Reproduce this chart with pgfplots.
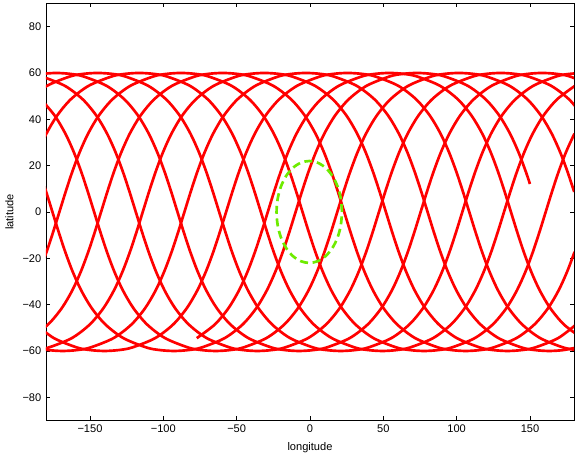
\documentclass[border=0pt]{standalone}
\usepackage{fontspec}
\setmainfont{Liberation Sans}
\usepackage{pgfplots}
\pgfplotsset{compat=1.18}
\definecolor{trackred}{RGB}{255,0,0}
\definecolor{fovgreen}{RGB}{110,235,0}
\begin{document}
\begin{tikzpicture}
\begin{axis}[
  width=396pt, height=312.75pt, scale only axis,
  xmin=-180, xmax=180, ymin=-90, ymax=90,
  xtick={-150,-100,-50,0,50,100,150},
  xticklabels={−150,−100,−50,0,50,100,150},
  ytick={-80,-60,-40,-20,0,20,40,60,80},
  yticklabels={−80,−60,−40,−20,0,20,40,60,80},
  tick align=inside,
  major tick length=3pt,
  tick style={black,line width=0.5pt},
  axis line style={line width=0.6pt},
  ticklabel style={font=\fontsize{8.3}{10}\selectfont},
  label style={font=\fontsize{8.3}{10}\selectfont},
  xlabel={longitude}, ylabel={latitude},
  trk/.style={trackred,line width=2pt,smooth,mark=none},
]
% ground track, one piece between two crossings of the date line
\addplot[trk] coordinates {(-77.20,-54.47) (-64.93,-48.59) (-55.62,-41.56) (-48.38,-33.83) (-42.51,-25.66) (-37.51,-17.23) (-33.03,-8.65) (-28.78,0) (-24.53,8.65) (-20.05,17.23) (-15.05,25.66) (-9.18,33.83) (-1.94,41.56) (7.37,48.59) (19.64,54.47) (35.47,58.53) (44.59,59.62) (54.11,60) (63.65,59.62) (72.76,58.53) (88.59,54.47) (100.86,48.59) (110.17,41.56) (117.41,33.83) (123.28,25.66) (128.28,17.23) (132.76,8.65) (137.01,0) (141.26,-8.65) (145.74,-17.23) (150.74,-25.66) (156.61,-33.83) (163.85,-41.56) (173.16,-48.59) (185.43,-54.47)};
\addplot[trk] coordinates {(-186.84,-48.59) (-174.57,-54.47) (-158.74,-58.53) (-149.62,-59.62) (-140.10,-60) (-130.56,-59.62) (-121.45,-58.53) (-105.62,-54.47) (-93.35,-48.59) (-84.04,-41.56) (-76.80,-33.83) (-70.93,-25.66) (-65.93,-17.23) (-61.45,-8.65) (-57.20,0) (-52.95,8.65) (-48.47,17.23) (-43.47,25.66) (-37.60,33.83) (-30.36,41.56) (-21.05,48.59) (-8.78,54.47) (7.05,58.53) (16.17,59.62) (25.69,60) (35.23,59.62) (44.34,58.53) (60.17,54.47) (72.44,48.59) (81.75,41.56) (88.99,33.83) (94.86,25.66) (99.86,17.23) (104.34,8.65) (108.59,0) (112.84,-8.65) (117.32,-17.23) (122.32,-25.66) (128.19,-33.83) (135.43,-41.56) (144.74,-48.59) (157.01,-54.47) (172.84,-58.53) (181.96,-59.62)};
\addplot[trk] coordinates {(-187.16,-58.53) (-178.04,-59.62) (-168.52,-60) (-158.98,-59.62) (-149.87,-58.53) (-134.04,-54.47) (-121.77,-48.59) (-112.46,-41.56) (-105.22,-33.83) (-99.35,-25.66) (-94.35,-17.23) (-89.87,-8.65) (-85.62,0) (-81.37,8.65) (-76.89,17.23) (-71.89,25.66) (-66.02,33.83) (-58.78,41.56) (-49.47,48.59) (-37.20,54.47) (-21.37,58.53) (-12.25,59.62) (-2.73,60) (6.81,59.62) (15.92,58.53) (31.75,54.47) (44.02,48.59) (53.33,41.56) (60.57,33.83) (66.44,25.66) (71.44,17.23) (75.92,8.65) (80.17,0) (84.42,-8.65) (88.90,-17.23) (93.90,-25.66) (99.77,-33.83) (107.01,-41.56) (116.32,-48.59) (128.59,-54.47) (144.42,-58.53) (153.54,-59.62) (163.06,-60) (172.60,-59.62) (181.71,-58.53)};
\addplot[trk] coordinates {(-187.40,-59.62) (-178.29,-58.53) (-162.46,-54.47) (-150.19,-48.59) (-140.88,-41.56) (-133.64,-33.83) (-127.77,-25.66) (-122.77,-17.23) (-118.29,-8.65) (-114.04,0) (-109.79,8.65) (-105.31,17.23) (-100.31,25.66) (-94.44,33.83) (-87.20,41.56) (-77.89,48.59) (-65.62,54.47) (-49.79,58.53) (-40.67,59.62) (-31.15,60) (-21.61,59.62) (-12.50,58.53) (3.33,54.47) (15.60,48.59) (24.91,41.56) (32.15,33.83) (38.02,25.66) (43.02,17.23) (47.50,8.65) (51.75,0) (56.00,-8.65) (60.48,-17.23) (65.48,-25.66) (71.35,-33.83) (78.59,-41.56) (87.90,-48.59) (100.17,-54.47) (116.00,-58.53) (125.12,-59.62) (134.64,-60) (144.18,-59.62) (153.29,-58.53) (169.12,-54.47) (181.39,-48.59)};
\addplot[trk] coordinates {(-190.88,-54.47) (-178.61,-48.59) (-169.30,-41.56) (-162.06,-33.83) (-156.19,-25.66) (-151.19,-17.23) (-146.71,-8.65) (-142.46,0) (-138.21,8.65) (-133.73,17.23) (-128.73,25.66) (-122.86,33.83) (-115.62,41.56) (-106.31,48.59) (-94.04,54.47) (-78.21,58.53) (-69.09,59.62) (-59.57,60) (-50.03,59.62) (-40.92,58.53) (-25.09,54.47) (-12.82,48.59) (-3.51,41.56) (3.73,33.83) (9.60,25.66) (14.60,17.23) (19.08,8.65) (23.33,0) (27.58,-8.65) (32.06,-17.23) (37.06,-25.66) (42.93,-33.83) (50.17,-41.56) (59.48,-48.59) (71.75,-54.47) (87.58,-58.53) (96.70,-59.62) (106.22,-60) (115.76,-59.62) (124.87,-58.53) (140.70,-54.47) (152.97,-48.59) (162.28,-41.56) (169.52,-33.83) (175.39,-25.66) (180.39,-17.23)};
\addplot[trk] coordinates {(-184.61,-25.66) (-179.61,-17.23) (-175.13,-8.65) (-170.88,0) (-166.63,8.65) (-162.15,17.23) (-157.15,25.66) (-151.28,33.83) (-144.04,41.56) (-134.73,48.59) (-122.46,54.47) (-106.63,58.53) (-97.51,59.62) (-87.99,60) (-78.45,59.62) (-69.34,58.53) (-53.51,54.47) (-41.24,48.59) (-31.93,41.56) (-24.69,33.83) (-18.82,25.66) (-13.82,17.23) (-9.34,8.65) (-5.09,0) (-0.84,-8.65) (3.64,-17.23) (8.64,-25.66) (14.51,-33.83) (21.75,-41.56) (31.06,-48.59) (43.33,-54.47) (59.16,-58.53) (68.28,-59.62) (77.80,-60) (87.34,-59.62) (96.45,-58.53) (112.28,-54.47) (124.55,-48.59) (133.86,-41.56) (141.10,-33.83) (146.97,-25.66) (151.97,-17.23) (156.45,-8.65) (160.70,0) (164.95,8.65) (169.43,17.23) (174.43,25.66) (180.30,33.83)};
\addplot[trk] coordinates {(-185.57,25.66) (-179.70,33.83) (-172.46,41.56) (-163.15,48.59) (-150.88,54.47) (-135.05,58.53) (-125.93,59.62) (-116.41,60) (-106.87,59.62) (-97.76,58.53) (-81.93,54.47) (-69.66,48.59) (-60.35,41.56) (-53.11,33.83) (-47.24,25.66) (-42.24,17.23) (-37.76,8.65) (-33.51,0) (-29.26,-8.65) (-24.78,-17.23) (-19.78,-25.66) (-13.91,-33.83) (-6.67,-41.56) (2.64,-48.59) (14.91,-54.47) (30.74,-58.53) (39.86,-59.62) (49.38,-60) (58.92,-59.62) (68.03,-58.53) (83.86,-54.47) (96.13,-48.59) (105.44,-41.56) (112.68,-33.83) (118.55,-25.66) (123.55,-17.23) (128.03,-8.65) (132.28,0) (136.53,8.65) (141.01,17.23) (146.01,25.66) (151.88,33.83) (159.12,41.56) (168.43,48.59) (180.70,54.47)};
\addplot[trk] coordinates {(-191.57,48.59) (-179.30,54.47) (-163.47,58.53) (-154.35,59.62) (-144.83,60) (-135.29,59.62) (-126.18,58.53) (-110.35,54.47) (-98.08,48.59) (-88.77,41.56) (-81.53,33.83) (-75.66,25.66) (-70.66,17.23) (-66.18,8.65) (-61.93,0) (-57.68,-8.65) (-53.20,-17.23) (-48.20,-25.66) (-42.33,-33.83) (-35.09,-41.56) (-25.78,-48.59) (-13.51,-54.47) (2.32,-58.53) (11.44,-59.62) (20.96,-60) (30.50,-59.62) (39.61,-58.53) (55.44,-54.47) (67.71,-48.59) (77.02,-41.56) (84.26,-33.83) (90.13,-25.66) (95.13,-17.23) (99.61,-8.65) (103.86,0) (108.11,8.65) (112.59,17.23) (117.59,25.66) (123.46,33.83) (130.70,41.56) (140.01,48.59) (152.28,54.47) (168.11,58.53) (177.23,59.62) (186.75,60)};
\addplot[trk] coordinates {(-182.77,59.62) (-173.25,60) (-163.71,59.62) (-154.60,58.53) (-138.77,54.47) (-126.50,48.59) (-117.19,41.56) (-109.95,33.83) (-104.08,25.66) (-99.08,17.23) (-94.60,8.65) (-90.35,0) (-86.10,-8.65) (-81.62,-17.23) (-76.62,-25.66) (-70.75,-33.83) (-63.51,-41.56) (-54.20,-48.59) (-41.93,-54.47) (-26.10,-58.53) (-16.98,-59.62) (-7.46,-60) (2.08,-59.62) (11.19,-58.53) (27.02,-54.47) (39.29,-48.59) (48.60,-41.56) (55.84,-33.83) (61.71,-25.66) (66.71,-17.23) (71.19,-8.65) (75.44,0) (79.69,8.65) (84.17,17.23) (89.17,25.66) (95.04,33.83) (102.28,41.56) (111.59,48.59) (123.86,54.47) (139.69,58.53) (148.81,59.62) (158.33,60) (167.87,59.62) (176.98,58.53) (192.81,54.47)};
\addplot[trk] coordinates {(-183.02,58.53) (-167.19,54.47) (-154.92,48.59) (-145.61,41.56) (-138.37,33.83) (-132.50,25.66) (-127.50,17.23) (-123.02,8.65) (-118.77,0) (-114.52,-8.65) (-110.04,-17.23) (-105.04,-25.66) (-99.17,-33.83) (-91.93,-41.56) (-82.62,-48.59) (-70.35,-54.47) (-54.52,-58.53) (-45.40,-59.62) (-35.88,-60) (-26.34,-59.62) (-17.23,-58.53) (-1.40,-54.47) (10.87,-48.59) (20.18,-41.56) (27.42,-33.83) (33.29,-25.66) (38.29,-17.23) (42.77,-8.65) (47.02,0) (51.27,8.65) (55.75,17.23) (60.75,25.66) (66.62,33.83) (73.86,41.56) (83.17,48.59) (95.44,54.47) (111.27,58.53) (120.39,59.62) (129.91,60) (139.45,59.62) (148.56,58.53) (164.39,54.47) (176.66,48.59) (185.97,41.56)};
\addplot[trk] coordinates {(-183.34,48.59) (-174.03,41.56) (-166.79,33.83) (-160.92,25.66) (-155.92,17.23) (-151.44,8.65) (-147.19,0) (-142.94,-8.65) (-138.46,-17.23) (-133.46,-25.66) (-127.59,-33.83) (-120.35,-41.56) (-111.04,-48.59) (-98.77,-54.47) (-82.94,-58.53) (-73.82,-59.62) (-64.30,-60) (-54.76,-59.62) (-45.65,-58.53) (-29.82,-54.47) (-17.55,-48.59) (-8.24,-41.56) (-1.00,-33.83) (4.87,-25.66) (9.87,-17.23) (14.35,-8.65) (18.60,0) (22.85,8.65) (27.33,17.23) (32.33,25.66) (38.20,33.83) (45.44,41.56) (54.75,48.59) (67.02,54.47) (82.85,58.53) (91.97,59.62) (101.49,60) (111.03,59.62) (120.14,58.53) (135.97,54.47) (148.24,48.59) (157.55,41.56) (164.79,33.83) (170.66,25.66) (175.66,17.23) (180.14,8.65)};
\addplot[trk] coordinates {(-184.34,17.23) (-179.86,8.65) (-175.61,0) (-171.36,-8.65) (-166.88,-17.23) (-161.88,-25.66) (-156.01,-33.83) (-148.77,-41.56) (-139.46,-48.59) (-127.19,-54.47) (-111.36,-58.53) (-102.24,-59.62) (-92.72,-60) (-83.18,-59.62) (-74.07,-58.53) (-58.24,-54.47) (-45.97,-48.59) (-36.66,-41.56) (-29.42,-33.83) (-23.55,-25.66) (-18.55,-17.23) (-14.07,-8.65) (-9.82,0) (-5.57,8.65) (-1.09,17.23) (3.91,25.66) (9.78,33.83) (17.02,41.56) (26.33,48.59) (38.60,54.47) (54.43,58.53) (63.55,59.62) (73.07,60) (82.61,59.62) (91.72,58.53) (107.55,54.47) (119.82,48.59) (129.13,41.56) (136.37,33.83) (142.24,25.66) (147.24,17.23) (149.97,12.09)};
% visibility circle
\addplot[fovgreen,line width=2pt,smooth,dash pattern=on 6pt off 3.5pt] coordinates {(21.80,0) (21.04,5.69) (18.81,11.00) (15.27,15.56) (10.65,19.05) (5.27,21.25) (-0.50,22.00) (-6.27,21.25) (-11.65,19.05) (-16.27,15.56) (-19.81,11.00) (-22.04,5.69) (-22.80,0) (-22.04,-5.69) (-19.81,-11.00) (-16.27,-15.56) (-11.65,-19.05) (-6.27,-21.25) (-0.50,-22.00) (5.27,-21.25) (10.65,-19.05) (15.27,-15.56) (18.81,-11.00) (21.04,-5.69) (21.80,0)};
\end{axis}
\path ([shift={(-34.5pt,-25.1pt)}]current axis.south west) rectangle ([shift={(5.25pt,2.6pt)}]current axis.north east);
\end{tikzpicture}
\end{document}
